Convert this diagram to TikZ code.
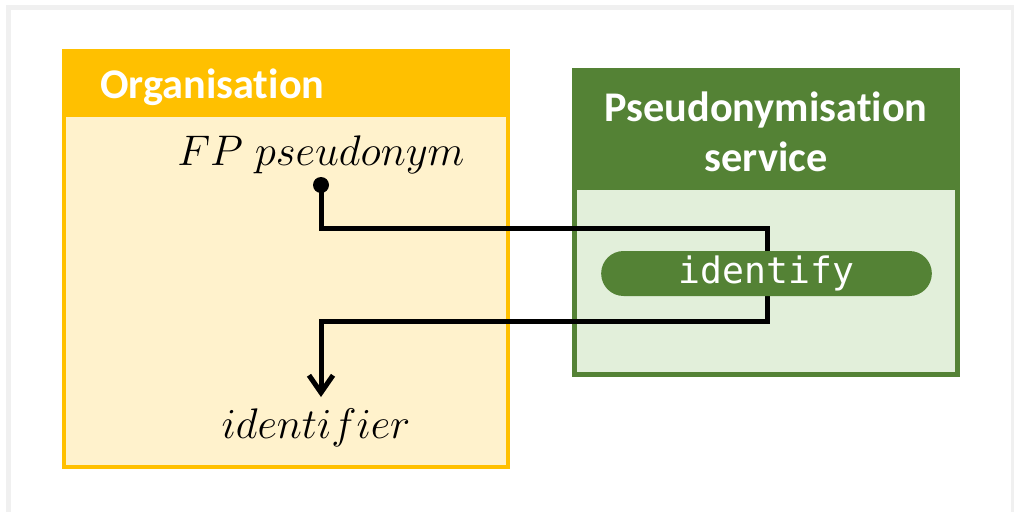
\documentclass[tikz,border=0pt]{standalone}
\usepackage{graphicx}
\usepackage{fontspec}
\newfontfamily\headfont[Ligatures={NoCommon}]{Carlito}
\newfontfamily\codefont{DejaVu Sans Mono}
\usetikzlibrary{arrows.meta}
\definecolor{orgyellow}{HTML}{FFC000}
\definecolor{orglight}{HTML}{FFF2CC}
\definecolor{svcgreen}{HTML}{548235}
\definecolor{svclight}{HTML}{E2EFDA}
\definecolor{framegray}{HTML}{F0F0F0}
\newcommand{\bigmath}[1]{\scalebox{1.29}{\fontsize{24.88}{30}\selectfont$#1$}}
\tikzset{
  headtext/.style={text=white, font=\headfont\bfseries\fontsize{31.7}{37.5}\selectfont, inner sep=0pt},
  mathtext/.style={inner sep=0pt},
  pill/.style={fill=svcgreen, rounded corners=16.8pt, minimum width=248pt, minimum height=33.75pt, inner sep=0pt, text=white, font=\codefont\fontsize{27.3}{32}\selectfont},
  flow/.style={line width=3.75pt, black},
  dot/.style={circle, fill=black, minimum size=12pt, inner sep=0pt}
}
\begin{document}
\begin{tikzpicture}[x=0.75pt,y=-0.75pt]
\useasboundingbox (0,0) rectangle (1014,511);
% outer frame
\draw[framegray, line width=3.5pt] (8.5,7.5) rectangle (1013,540);
% Organisation box
\filldraw[fill=orglight, draw=orgyellow, line width=3pt] (64,51) rectangle (508,467);
\fill[orgyellow] (62,49) rectangle (510,117);
\node[headtext, anchor=west] (orgtitle) at (100,87) {Organisation};
% Service box
\filldraw[fill=svclight, draw=svcgreen, line width=3.75pt] (574.5,70.5) rectangle (957.5,374.5);
\fill[svcgreen] (572,68) rectangle (960,190);
\node[headtext, align=center] (svctitle) at (766,132) {Pseudonymisation\\service};
% texts
\node[mathtext] (fp) at (321,155) {\bigmath{FP\;pseudonym}};
\node[mathtext] (idf) at (316,428) {\bigmath{identifier}};
\node[dot] (src) at (321,185) {};
\coordinate (r1) at (767,228);
\coordinate (r2) at (767,321);
\coordinate (tip) at (321,397);
\draw[flow, -{Straight Barb[length=13pt,width=18pt,line width=3.75pt]}] (src.center) |- (r1) -- (r2) -| (tip);
\node[pill] (identify) at (766.5,273.5) {identify};
\end{tikzpicture}
\end{document}
